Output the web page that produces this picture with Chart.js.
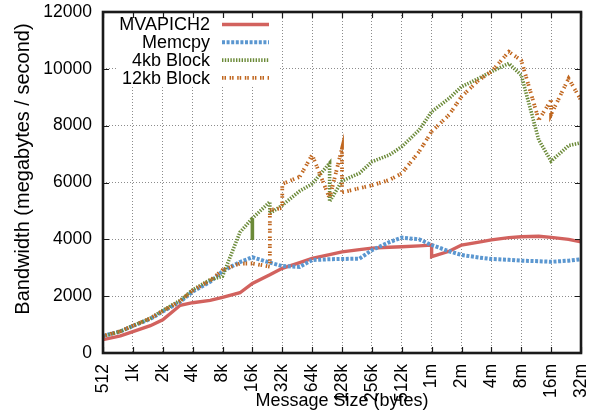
<!DOCTYPE html>
<html>
<head>
<meta charset="utf-8">
<script src="https://cdn.jsdelivr.net/npm/chart.js@4/dist/chart.umd.min.js"></script>
<style>
  html, body { margin: 0; padding: 0; background: #ffffff; }
  #wrap { width: 598px; height: 415px; }
</style>
</head>
<body>
<div id="wrap"><canvas id="bw" width="598" height="415"></canvas></div>
<script>
// Message sizes (bytes) that were measured: powers of two and 1.5x powers of two
const sizes = [512, 768, 1024, 1536, 2048, 3072, 4096, 6144, 8192, 12288, 16384,
  24576, 32768, 49152, 65536, 98304, 131072, 196608, 262144, 393216, 524288,
  786432, 1048576, 1572864, 2097152, 3145728, 4194304, 6291456, 8388608,
  12582912, 16777216, 25165824, 33554432];

// Bandwidth in MB/s; an inner list means several readings at the same size
const mvapich2 = [470, 600, 750, 960, 1170, 1680, 1770, 1850, 1960, 2120, 2450,
  2750, 2980, 3180, 3330, 3460, 3560, 3640, 3690, 3720, 3740, 3770, [3800, 3390],
  3580, 3800, 3900, 3980, 4060, 4090, 4110, 4070, 4000, 3910];
const memcpy = [600, 760, 950, 1200, 1460, 1800, 2160, 2500, 2880, 3200, 3370,
  3180, 3060, 3030, 3270, 3300, 3310, 3320, 3620, 3900, 4060, 4000, 3800, 3580,
  3450, 3360, 3310, 3280, 3250, 3230, 3210, 3250, 3300];
const block4kb = [590, 760, 960, 1220, 1500, 1850, 2220, 2580, 2700, 4250,
  [4740, 3980, 4740], [5320, 4910], 5200, 5700, 5950, [6680, 5330], 6050, 6330,
  6730, 6970, 7260, 7850, 8490, 8960, 9370, 9670, 9900, 10190, 9780, 7500, 6750,
  7300, 7400];
const block12kb = [600, 770, 960, 1220, 1480, 1830, 2200, 2550, 2920, 3150, 3150,
  [3040, 5030], [5100, 5950], 6200, 6970, 5450, [7200, 5650], 5800, 5900, 6090,
  6320, 7090, 7790, 8380, 9020, 9610, 9900, 10600, 10300, 8200, [8900, 8400],
  9660, 8900];

// Axis ticks
const xTickSizes = [512, 1024, 2048, 4096, 8192, 16384, 32768, 65536, 131072,
  262144, 524288, 1048576, 2097152, 4194304, 8388608, 16777216, 33554432];
const xTickLabels = ['512', '1k', '2k', '4k', '8k', '16k', '32k', '64k', '128k',
  '256k', '512k', '1m', '2m', '4m', '8m', '16m', '32m'];
const yTicks = [0, 2000, 4000, 6000, 8000, 10000, 12000];

const FONT = "'Liberation Sans', Arial, Helvetica, sans-serif";

function toPoints(values) {
  const pts = [];
  values.forEach((v, i) => {
    (Array.isArray(v) ? v : [v]).forEach(y => pts.push({ x: sizes[i], y: y }));
  });
  return pts;
}

const series = [
  { label: 'MVAPICH2', values: mvapich2, color: '#d2625e', width: 3.4, dash: [] },
  { label: 'Memcpy', values: memcpy, color: '#5b97d0', width: 4, dash: [3, 1.6] },
  { label: '4kb Block', values: block4kb, color: '#6b8a38', width: 3.6, dash: [1.4, 1.4] },
  { label: '12kb Block', values: block12kb, color: '#c0661e', width: 3.8, dash: [1.5, 1, 1.5, 3.6] }
];

const datasets = series.map((s, i) => ({
  label: s.label,
  data: toPoints(s.values),
  borderColor: s.color,
  backgroundColor: s.color,
  borderWidth: s.width,
  borderDash: s.dash,
  borderCapStyle: 'butt',
  borderJoinStyle: 'miter',
  pointRadius: 0,
  tension: 0,
  fill: false,
  order: series.length - i
}));

// Key background, frame, inward tick marks, axis titles and key
const decorations = {
  id: 'decorations',
  beforeDatasetsDraw(chart) {
    const ctx = chart.ctx;
    ctx.save();
    ctx.fillStyle = '#ffffff';
    ctx.fillRect(117, chart.chartArea.top + 2, 162, 73);
    ctx.restore();
  },
  afterDraw(chart) {
    const ctx = chart.ctx;
    const a = chart.chartArea;
    const xs = chart.scales.x, ys = chart.scales.y;
    ctx.save();
    ctx.setLineDash([]);

    // inward tick marks on all four sides
    ctx.strokeStyle = '#1a1a1a';
    ctx.lineWidth = 1.2;
    ctx.beginPath();
    xTickSizes.forEach(v => {
      const px = Math.round(xs.getPixelForValue(v)) + 0.5;
      ctx.moveTo(px, a.bottom); ctx.lineTo(px, a.bottom - 6);
      ctx.moveTo(px, a.top); ctx.lineTo(px, a.top + 6);
    });
    yTicks.forEach(v => {
      const py = Math.round(ys.getPixelForValue(v)) + 0.5;
      ctx.moveTo(a.left, py); ctx.lineTo(a.left + 6, py);
      ctx.moveTo(a.right, py); ctx.lineTo(a.right - 6, py);
    });
    ctx.stroke();

    // plot border
    ctx.strokeStyle = '#1a1a1a';
    ctx.lineWidth = 2.6;
    ctx.strokeRect(a.left, a.top, a.right - a.left, a.bottom - a.top);

    // axis titles
    ctx.fillStyle = '#000000';
    ctx.textAlign = 'center';
    ctx.textBaseline = 'middle';
    ctx.font = '18px ' + FONT;
    ctx.fillText('Message Size (bytes)', (a.left + a.right) / 2, 401);
    ctx.save();
    ctx.translate(23, 169);
    ctx.rotate(-Math.PI / 2);
    ctx.font = '20px ' + FONT;
    ctx.fillText('Bandwidth (megabytes / second)', 0, 0);
    ctx.restore();

    // key: right-aligned text followed by a line sample
    ctx.font = '18px ' + FONT;
    ctx.textAlign = 'right';
    series.forEach((s, i) => {
      const y = 24.5 + i * 17.8;
      ctx.fillStyle = '#000000';
      ctx.fillText(s.label, 210, y + 1);
      ctx.strokeStyle = s.color;
      ctx.lineWidth = s.width;
      ctx.lineCap = 'butt';
      ctx.setLineDash(s.dash);
      ctx.beginPath();
      ctx.moveTo(222, y);
      ctx.lineTo(269, y);
      ctx.stroke();
    });
    ctx.restore();
  }
};

new Chart(document.getElementById('bw'), {
  type: 'line',
  data: { datasets: datasets },
  options: {
    responsive: false,
    animation: false,
    layout: { padding: { top: 12, right: 17, bottom: 0, left: 0 } },
    plugins: {
      legend: { display: false },
      tooltip: { enabled: false }
    },
    scales: {
      x: {
        type: 'logarithmic',
        min: 512,
        max: 33554432,
        afterBuildTicks: s => { s.ticks = xTickSizes.map(v => ({ value: v })); },
        afterFit: s => { s.height = 62; s.paddingLeft = 0; s.paddingRight = 0; },
        grid: { color: '#8c8c8c', lineWidth: 1, drawTicks: false },
        border: { display: false, dash: [1, 2] },
        ticks: {
          autoSkip: false,
          minRotation: 90,
          maxRotation: 90,
          padding: 11,
          color: '#000000',
          font: { family: FONT, size: 17.5 },
          callback: (v, i) => xTickLabels[i]
        }
      },
      y: {
        min: 0,
        max: 12000,
        afterBuildTicks: s => { s.ticks = yTicks.map(v => ({ value: v })); },
        afterFit: s => { s.width = 103; s.paddingTop = 0; s.paddingBottom = 0; },
        grid: { color: '#8c8c8c', lineWidth: 1, drawTicks: false },
        border: { display: false, dash: [1, 2] },
        ticks: {
          padding: 11,
          color: '#000000',
          font: { family: FONT, size: 17.5 },
          callback: v => String(v)
        }
      }
    }
  },
  plugins: [decorations]
});
</script>
</body>
</html>
